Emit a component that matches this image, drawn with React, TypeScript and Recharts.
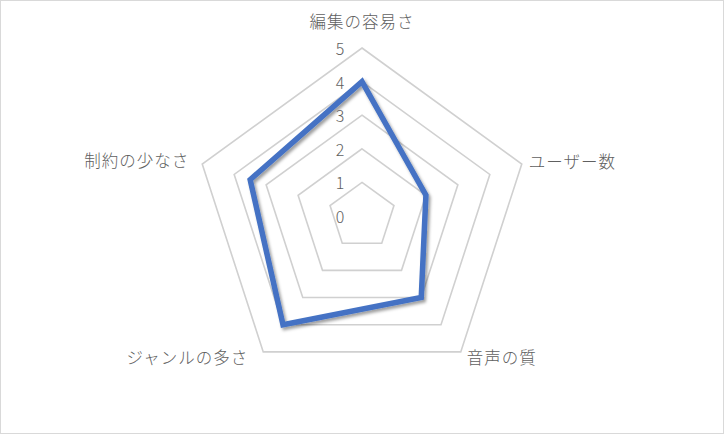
import React from "react";
import {
	RadarChart,
	Radar,
	PolarGrid,
	PolarAngleAxis,
	PolarRadiusAxis,
} from "recharts";

const categories = ["編集の容易さ", "ユーザー数", "音声の質", "ジャンルの多さ", "制約の少なさ"];
const scores = [4, 2, 3, 4, 3.5];
const radiusTicks = [0, 1, 2, 3, 4, 5];

const data = categories.map((axis, i) => ({ axis, score: scores[i] }));

const W = 722;
const H = 432;
const CX = 361;
const CY = 215;
const R = 168;
const TEXT = "#606060";
const FONT = '"Noto Sans CJK JP", "Noto Sans", sans-serif';

// label offsets from each outer vertex, [dx, dy, anchor]
const labelPlace: [number, number, "start" | "middle" | "end"][] = [
	[0, -27, "middle"],
	[7, -3, "start"],
	[6, 5, "start"],
	[-15, 5, "end"],
	[-13, -4, "end"],
];

const AngleTick = (props: any) => {
	const { payload, index } = props;
	const i = payload?.index ?? index ?? 0;
	const ang = ((payload?.coordinate ?? 90) * Math.PI) / 180;
	const vx = CX + R * Math.cos(ang);
	const vy = CY - R * Math.sin(ang);
	const [dx, dy, anchor] = labelPlace[i] || [0, 0, "middle"];
	return (
		<text
			x={vx + dx}
			y={vy + dy}
			textAnchor={anchor}
			dominantBaseline="central"
			fill={TEXT}
			fontSize={16.5}
			letterSpacing={1}
			fontFamily={FONT}
			fontWeight={300}
		>
			{payload.value}
		</text>
	);
};

const RadiusTick = (props: any) => {
	const { x, y, payload } = props;
	return (
		<text
			x={x - 22}
			y={y}
			textAnchor="middle"
			dominantBaseline="central"
			fill={TEXT}
			fontSize={16}
			fontFamily={FONT}
			fontWeight={300}
		>
			{payload.value}
		</text>
	);
};

const ShadowLine = (props: any) => {
	const pts = (props.points || []).map((p: any) => `${p.x},${p.y}`).join(" ");
	return (
		<polygon
			points={pts}
			fill="none"
			stroke="#4472C4"
			strokeWidth={5.5}
			strokeLinejoin="miter"
			filter="url(#lineShadow)"
		/>
	);
};

export default function App() {
	return (
		<div
			style={{
				position: "absolute",
				left: 0,
				top: 0,
				width: 724,
				height: 434,
				boxSizing: "border-box",
				border: "1px solid #d9d9d9",
				background: "#fff",
			}}
		>
			<svg width={0} height={0} style={{ position: "absolute" }}>
				<defs>
					<filter id="lineShadow" x="-20%" y="-20%" width="140%" height="140%">
						<feDropShadow dx="2" dy="2.5" stdDeviation="1.6" floodColor="#000" floodOpacity="0.38" />
					</filter>
				</defs>
			</svg>
			<RadarChart
				width={W}
				height={H}
				data={data}
				cx={CX}
				cy={CY}
				outerRadius={R}
				margin={{ top: 0, right: 0, bottom: 0, left: 0 }}
			>
				<PolarGrid gridType="polygon" radialLines={false} stroke="#d0d0d0" strokeWidth={1.6} />
				<PolarAngleAxis dataKey="axis" tick={<AngleTick />} axisLine={false} tickLine={false} />
				<PolarRadiusAxis
					angle={90}
					domain={[0, 5]}
					ticks={radiusTicks as any}
					tickCount={6}
					axisLine={false}
					tickLine={false}
					tick={<RadiusTick />}
				/>
				<Radar
					dataKey="score"
					stroke="#4472C4"
					fill="none"
					isAnimationActive={false}
					shape={<ShadowLine />}
				/>
			</RadarChart>
		</div>
	);
}
